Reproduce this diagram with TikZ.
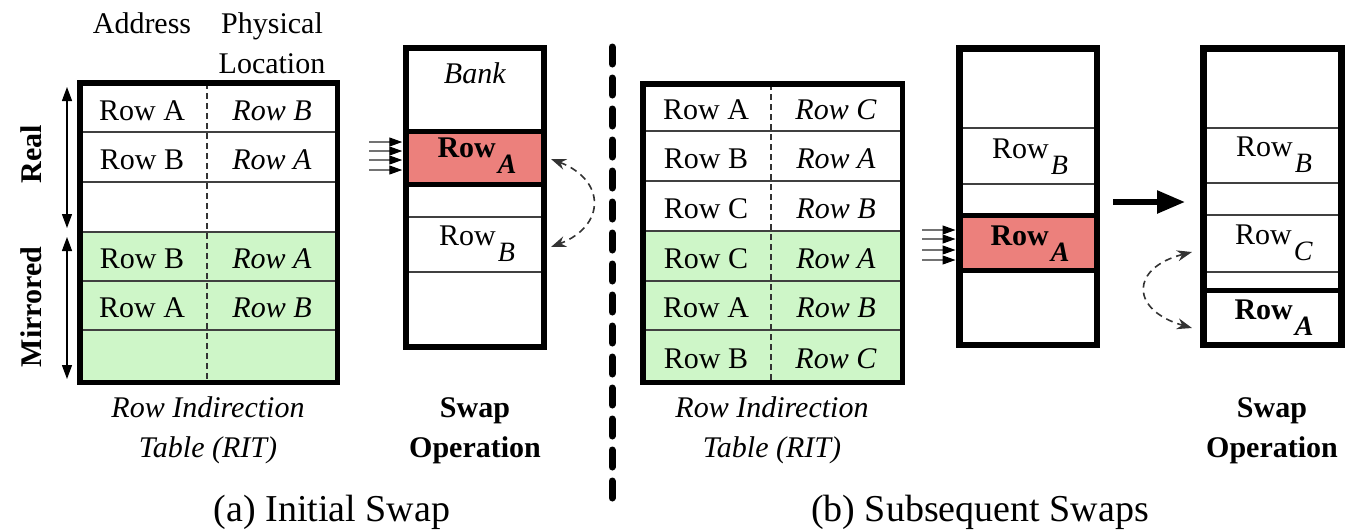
\documentclass[tikz,border=0pt]{standalone}
\usepackage{fontspec}
\setmainfont{Liberation Serif}
\usetikzlibrary{arrows.meta}

\definecolor{ritgreen}{RGB}{206,246,200}
\definecolor{hotrow}{RGB}{236,128,124}

% a row name with its letter set as a lowered subscript
\newcommand{\rsub}[1]{Row\kern2pt\raisebox{-16pt}{\fontsize{28}{28}\selectfont\textit{#1}}}

\tikzset{
  txt/.style={font=\fontsize{30}{36}\selectfont, inner sep=0pt, anchor=base},
  capt/.style={font=\fontsize{38}{44}\selectfont, inner sep=0pt, anchor=base},
  bankframe/.style={draw, line width=6.5pt, inner sep=0pt},
  ritframe/.style={draw, line width=5.5pt, inner sep=0pt},
  hotbox/.style={fill=hotrow, draw=none, inner sep=0pt, outer sep=0pt},
  rowline/.style={line width=1.5pt, black!75},
  thickline/.style={line width=5pt},
  coldiv/.style={line width=1.2pt, black!80, dash pattern=on 6pt off 4pt},
  feed/.style={line width=1.2pt, black!55, shorten >=0.5pt,
    -{Triangle[length=13pt, width=9pt, color=black]}},
  swaparc/.style={line width=1.6pt, black!80, dash pattern=on 7pt off 5pt,
    {Stealth[length=15pt, width=11pt]}-{Stealth[length=15pt, width=11pt]}},
  spanarrow/.style={line width=1.3pt,
    {Triangle[length=14pt, width=10pt]}-{Triangle[length=14pt, width=10pt]}},
  bigarrow/.style={line width=5.5pt, -{Triangle[length=28pt, width=22pt]}},
  pagediv/.style={line width=7pt, line cap=round, dash pattern=on 17pt off 14pt},
}

\begin{document}
\begin{tikzpicture}[x=1pt, y=-1pt]
\useasboundingbox (0,0) rectangle (1345,531);

%================ (a) Initial swap ================
% --- row indirection table
\fill[ritgreen] (79.75,232) rectangle (337.25,382.25);
\foreach \y in {132,182,232,281,330}
  \draw[rowline] (79.75,\y) -- (337.25,\y);
\draw[coldiv] (207,83) -- (207,382);
\node[ritframe, minimum width=257.5pt, minimum height=299.5pt] (rita) at (208.5,232.5) {};

\node[txt] (hdaddr) at (142,33) {Address};
\node[txt] (hdphys) at (272,33) {Physical};
\node[txt] (hdloc)  at (272,73) {Location};

\node[txt] (a1l) at (142,120) {Row A};  \node[txt] (a1r) at (272,120) {\textit{Row B}};
\node[txt] (a2l) at (142,169) {Row B};  \node[txt] (a2r) at (272,169) {\textit{Row A}};
\node[txt] (a4l) at (142,268) {Row B};  \node[txt] (a4r) at (272,268) {\textit{Row A}};
\node[txt] (a5l) at (142,317) {Row A};  \node[txt] (a5r) at (272,317) {\textit{Row B}};

% --- real / mirrored halves
\coordinate (realtop) at (67,87);
\coordinate (realbot) at (67,228);
\coordinate (mirtop)  at (67,237);
\coordinate (mirbot)  at (67,379);
\draw[spanarrow] (realtop) -- (realbot);
\draw[spanarrow] (mirtop) -- (mirbot);
\node[txt, anchor=center, rotate=90] (reallbl) at (31,154) {\textbf{Real}};
\node[txt, anchor=center, rotate=90] (mirlbl)  at (31,307) {\textbf{Mirrored}};

\node[txt] (rita1) at (208,417) {\textit{Row Indirection}};
\node[txt] (rita2) at (208,457) {\textit{Table (RIT)}};

% --- bank
\node[hotbox, minimum width=138pt, minimum height=53.5pt] (hota) at (475,157.75) {};
\draw[thickline] (hota.north west) -- (hota.north east);
\draw[thickline] (hota.south west) -- (hota.south east);
\draw[rowline] (406,217) -- (544,217);
\draw[rowline] (406,272) -- (544,272);
\node[bankframe, minimum width=138pt, minimum height=299pt] (banka) at (475,197.5) {};

\node[txt] (banklbl) at (475,83) {\textit{Bank}};
\node[txt] (rowaa) at (477,157) {\textbf{\rsub{A}}};
\node[txt] (rowab) at (477,245) {\rsub{B}};

\foreach \y [count=\i] in {142,151,160,170} {
  \coordinate (fa\i) at (369,\y);
  \draw[feed] (fa\i) -- (fa\i -| banka.west);
}

\coordinate (swa1) at (551,159);
\coordinate (swa2) at (551,247);
\draw[swaparc] (swa1) .. controls (606,180) and (606,226) .. (swa2);

\node[txt] (swapa1) at (475,417) {\textbf{Swap}};
\node[txt] (swapa2) at (475,457) {\textbf{Operation}};

\node[capt] (capa) at (332,521) {(a) Initial Swap};

%================ divider ================
\coordinate (divtop) at (612,47);
\coordinate (divbot) at (612,505);
\draw[pagediv] (divtop) -- (divbot);

%================ (b) Subsequent swaps ================
% --- row indirection table
\fill[ritgreen] (642.75,231) rectangle (902.25,382.25);
\foreach \y in {131,181,231,281,330}
  \draw[rowline] (642.75,\y) -- (902.25,\y);
\draw[coldiv] (771,84) -- (771,382);
\node[ritframe, minimum width=259.5pt, minimum height=298.5pt] (ritb) at (772.5,233) {};

\node[txt] (b1l) at (706,119) {Row A};  \node[txt] (b1r) at (836,119) {\textit{Row C}};
\node[txt] (b2l) at (706,168) {Row B};  \node[txt] (b2r) at (836,168) {\textit{Row A}};
\node[txt] (b3l) at (706,218) {Row C};  \node[txt] (b3r) at (836,218) {\textit{Row B}};
\node[txt] (b4l) at (706,268) {Row C};  \node[txt] (b4r) at (836,268) {\textit{Row A}};
\node[txt] (b5l) at (706,317) {Row A};  \node[txt] (b5r) at (836,317) {\textit{Row B}};
\node[txt] (b6l) at (706,368) {Row B};  \node[txt] (b6r) at (836,368) {\textit{Row C}};

\node[txt] (ritb1) at (772,417) {\textit{Row Indirection}};
\node[txt] (ritb2) at (772,457) {\textit{Table (RIT)}};

% --- bank before the swap
\node[hotbox, minimum width=137.5pt, minimum height=55pt] (hotb) at (1028,243) {};
\draw[thickline] (hotb.north west) -- (hotb.north east);
\draw[thickline] (hotb.south west) -- (hotb.south east);
\draw[rowline] (959.25,128) -- (1096.75,128);
\draw[rowline] (959.25,184) -- (1096.75,184);
\node[bankframe, minimum width=137.5pt, minimum height=296.5pt] (bankb) at (1028,196.5) {};

\node[txt] (rowbb) at (1030,158) {\rsub{B}};
\node[txt] (rowba) at (1030,245) {\textbf{\rsub{A}}};

\foreach \y [count=\i] in {230,239,250,260} {
  \coordinate (fb\i) at (922,\y);
  \draw[feed] (fb\i) -- (fb\i -| bankb.west);
}

% --- bank after the swap
\coordinate (bigfrom) at (1113,202);
\coordinate (bigto)   at (1185,202);
\draw[bigarrow] (bigfrom) -- (bigto);

\draw[rowline] (1203.5,128) -- (1341.5,128);
\draw[rowline] (1203.5,183) -- (1341.5,183);
\draw[rowline] (1203.5,215) -- (1341.5,215);
\draw[rowline] (1203.5,272) -- (1341.5,272);
\draw[thickline] (1203.5,290) -- (1341.5,290);
\node[bankframe, minimum width=138pt, minimum height=296.5pt] (bankc) at (1272.5,196.5) {};

\node[txt] (rowcb) at (1274,156) {\rsub{B}};
\node[txt] (rowcc) at (1274,244) {\rsub{C}};
\node[txt] (rowca) at (1274,319) {\textbf{\rsub{A}}};

\coordinate (swb1) at (1192,252);
\coordinate (swb2) at (1192,328);
\draw[swaparc] (swb1) .. controls (1130,268) and (1130,310) .. (swb2);

\node[txt] (swapb1) at (1272,417) {\textbf{Swap}};
\node[txt] (swapb2) at (1272,457) {\textbf{Operation}};

\node[capt] (capb) at (980,521) {(b) Subsequent Swaps};
\end{tikzpicture}
\end{document}
